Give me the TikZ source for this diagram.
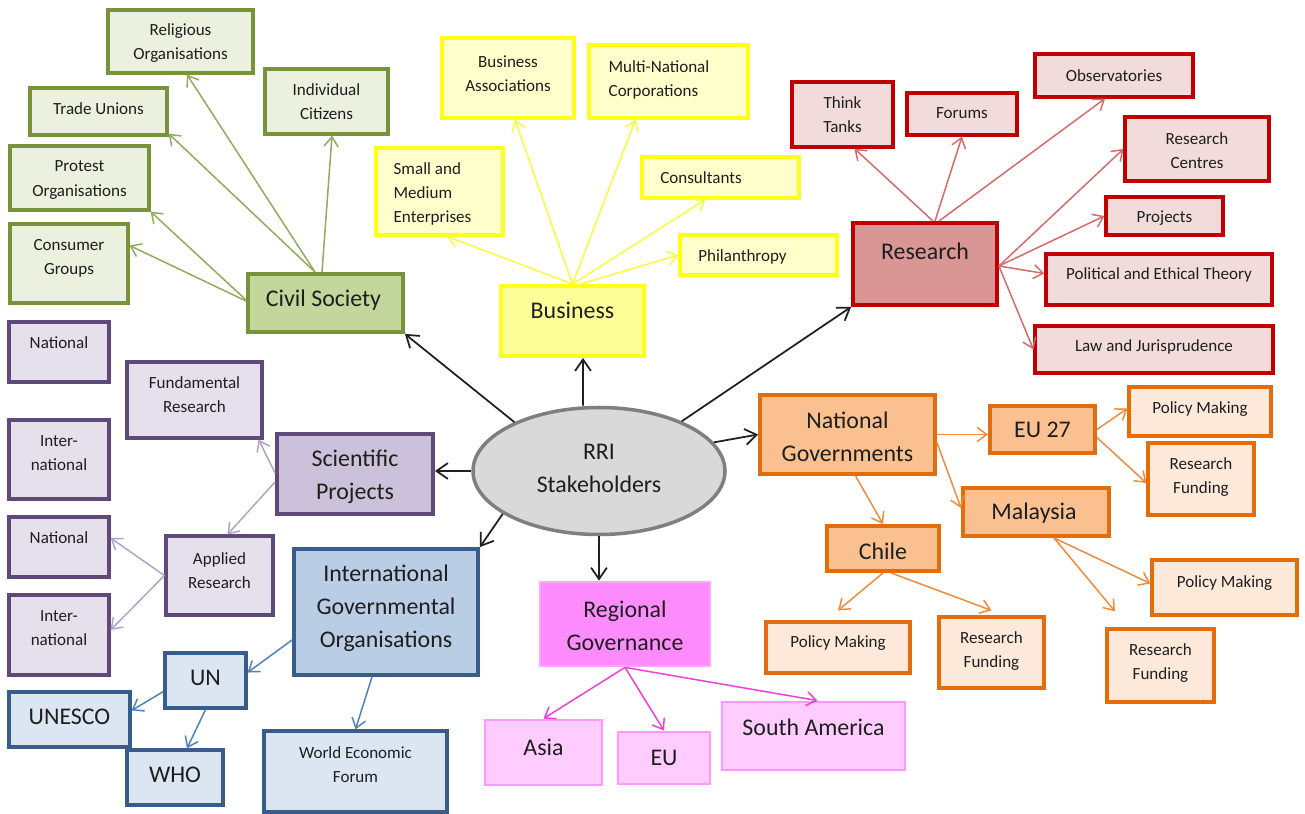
\documentclass[tikz,border=0pt]{standalone}
\usepackage{fontspec}
\setmainfont{Carlito}
\usetikzlibrary{arrows.meta,shapes.geometric}
\newdimen\pxu \pxu=0.02cm
\definecolor{txt}{HTML}{1E1E1E}
\definecolor{gborder}{HTML}{77933C}\definecolor{gsubf}{HTML}{EBF1DE}\definecolor{gmainf}{HTML}{C3D69B}\definecolor{garrow}{HTML}{8FAB5C}
\definecolor{yborder}{HTML}{FFFF1A}\definecolor{ysubf}{HTML}{FFFFCC}\definecolor{ymainf}{HTML}{FFFF99}\definecolor{yarrow}{HTML}{FAFA3C}
\definecolor{rborder}{HTML}{C00000}\definecolor{rsubf}{HTML}{F2DCDB}\definecolor{rmainf}{HTML}{D99694}\definecolor{rarrow}{HTML}{D66A6A}
\definecolor{pborder}{HTML}{5F497A}\definecolor{psubf}{HTML}{E5E0EC}\definecolor{pmainf}{HTML}{CCC1DA}\definecolor{parrow}{HTML}{B3A2C7}
\definecolor{bborder}{HTML}{385D8A}\definecolor{bsubf}{HTML}{DCE6F2}\definecolor{bmainf}{HTML}{B9CDE5}\definecolor{barrow}{HTML}{4F81BD}
\definecolor{mborder}{HTML}{FF99FF}\definecolor{msubf}{HTML}{FFCCFF}\definecolor{mmainf}{HTML}{FF8CFF}\definecolor{mmainb}{HTML}{FFA6FF}\definecolor{marrow}{HTML}{EE3FD9}
\definecolor{oborder}{HTML}{E46C0A}\definecolor{osubf}{HTML}{FDE9D9}\definecolor{omainf}{HTML}{FAC090}\definecolor{oarrow}{HTML}{F08A3C}
\definecolor{ellfill}{HTML}{D9D9D9}\definecolor{ellborder}{HTML}{7F7F7F}\definecolor{blk}{HTML}{1F1F1F}
\newcommand\bx[9]{%
  \node[#6, minimum width={(#4-#2)*0.02cm}, minimum height={(#5-#3)*0.02cm},
    label={[#8, shift={(#7)}]center:#9}] (#1) at ({(#2+#4)/2},{(#3+#5)/2}) {};}
\tikzset{
  bxbase/.style={rectangle, inner sep=0pt},
  gsub/.style={bxbase, draw=gborder, fill=gsubf, line width=1.8pt},
  gmain/.style={bxbase, draw=gborder, fill=gmainf, line width=2.2pt},
  ysub/.style={bxbase, draw=yborder, fill=ysubf, line width=1.8pt},
  ymain/.style={bxbase, draw=yborder, fill=ymainf, line width=2.2pt},
  rsub/.style={bxbase, draw=rborder, fill=rsubf, line width=1.8pt},
  rmain/.style={bxbase, draw=rborder, fill=rmainf, line width=2.2pt},
  psub/.style={bxbase, draw=pborder, fill=psubf, line width=1.8pt},
  pmain/.style={bxbase, draw=pborder, fill=pmainf, line width=2.2pt},
  bsub/.style={bxbase, draw=bborder, fill=bsubf, line width=1.8pt},
  bmain/.style={bxbase, draw=bborder, fill=bmainf, line width=2.2pt},
  msub/.style={bxbase, draw=mborder, fill=msubf, line width=1.6pt},
  mmain/.style={bxbase, draw=mmainb, fill=mmainf, line width=1.6pt},
  osub/.style={bxbase, draw=oborder, fill=osubf, line width=1.8pt},
  omain/.style={bxbase, draw=oborder, fill=omainf, line width=2.2pt},
  subT/.style={font=\fontsize{9.7}{13.7}\selectfont, align=center, text=txt, inner sep=0pt},
  subTL/.style={subT, align=left},
  mainT/.style={font=\fontsize{13.6}{18.8}\selectfont, align=center, text=txt, inner sep=0pt},
  conn/.style={line width=0.85pt, -{Straight Barb[length=5.5pt, width=8pt]}},
  garr/.style={conn, draw=garrow},
  yarr/.style={conn, draw=yarrow},
  rarr/.style={conn, draw=rarrow},
  parr/.style={conn, draw=parrow},
  barr/.style={conn, draw=barrow},
  marr/.style={conn, draw=marrow},
  oarr/.style={conn, draw=oarrow},
  karr/.style={line width=1pt, draw=blk, -{Straight Barb[length=6.5pt, width=9pt]}},
}
\begin{document}
\begin{tikzpicture}[x=0.02cm, y=-0.02cm]
\useasboundingbox (0,0) rectangle (1305,814);
% Civil society
\bx{rel}{108}{10}{253}{73}{gsub}{0,2}{subT}{Religious\\Organisations}
\bx{tu}{30}{88}{167}{135}{gsub}{0,-3}{subT}{Trade Unions}
\bx{ic}{265}{69}{388}{134}{gsub}{0,0}{subT}{Individual\\Citizens}
\bx{po}{10}{146}{149}{210}{gsub}{0,2}{subT}{Protest\\Organisations}
\bx{cg}{10}{224}{128}{303}{gsub}{0,-5}{subT}{Consumer\\Groups}
\bx{cs}{248}{274}{403}{332}{gmain}{-2,-3}{mainT}{Civil Society}
% Business
\bx{ba}{442}{38}{574}{118}{ysub}{0,-4.5}{subT}{Business\\Associations}
\bx{mnc}{589}{45}{748}{118}{ysub}{-9.5,-1.5}{subTL}{Multi-National\\Corporations}
\bx{sme}{376}{148}{503}{235}{ysub}{-7,2.5}{subTL}{Small and\\Medium\\Enterprises}
\bx{con}{642}{157}{799}{198}{ysub}{-19.5,0.5}{subT}{Consultants}
\bx{phi}{680}{235}{837}{275}{ysub}{-16,2}{subT}{Philanthropy}
\bx{bus}{501}{286}{644}{356}{ymain}{0,-11}{mainT}{Business}
% Research
\bx{tt}{792}{82}{893}{147}{rsub}{0,0}{subT}{Think\\Tanks}
\bx{for}{907}{93}{1017}{135}{rsub}{0,-1}{subT}{Forums}
\bx{obs}{1035}{54}{1193}{97}{rsub}{0,0}{subT}{Observatories}
\bx{rc}{1125}{117}{1269}{181}{rsub}{0,2}{subT}{Research\\Centres}
\bx{proj}{1106}{197}{1223}{235}{rsub}{0,2}{subT}{Projects}
\bx{pol}{1046}{254}{1272}{305}{rsub}{0,-4.5}{subT}{Political and Ethical Theory}
\bx{law}{1035}{326}{1273}{373}{rsub}{0,-2.5}{subT}{Law and Jurisprudence}
\bx{res}{853}{223}{997}{305}{rmain}{0,-13}{mainT}{Research}
% Scientific projects
\bx{nA}{9}{322}{109}{382}{psub}{0,-9}{subT}{National}
\bx{fr}{127}{362}{262}{438}{psub}{0,-5}{subT}{Fundamental\\Research}
\bx{iA}{9}{420}{109}{499}{psub}{0,-6}{subT}{Inter-\\national}
\bx{sp}{277}{434}{433}{514}{pmain}{0,2.5}{mainT}{Scientific\\Projects}
\bx{nB}{9}{517}{109}{577}{psub}{0,-9}{subT}{National}
\bx{ar}{166}{536}{273}{615}{psub}{0,-5}{subT}{Applied\\Research}
\bx{iB}{9}{595}{109}{675}{psub}{0,-6.5}{subT}{Inter-\\national}
% International governmental organisations
\bx{igo}{294}{549}{478}{675}{bmain}{0,-4}{mainT}{International\\Governmental\\Organisations}
\bx{un}{165}{653}{246}{708}{bsub}{0,-2.5}{mainT}{UN}
\bx{unesco}{9}{692}{130}{747}{bsub}{0,-2.5}{mainT}{UNESCO}
\bx{who}{127}{750}{223}{805}{bsub}{0,-2.5}{mainT}{WHO}
\bx{wef}{264}{731}{447}{812}{bsub}{0,-7}{subT}{World Economic\\Forum}
% Regional governance
\bx{rg}{540}{582}{710}{666}{mmain}{0,1.5}{mainT}{Regional\\Governance}
\bx{asia}{485}{720}{602}{785}{msub}{0,-5.5}{mainT}{Asia}
\bx{eu}{618}{732}{710}{784}{msub}{0,0}{mainT}{EU}
\bx{sa}{722}{702}{905}{770}{msub}{0,-9}{mainT}{South America}
% National governments
\bx{ng}{760}{395}{935}{474}{omain}{0,2}{mainT}{National\\Governments}
\bx{eut}{990}{406}{1095}{453}{omain}{0,0}{mainT}{EU 27}
\bx{epm}{1129}{387}{1271}{436}{osub}{0,-2.5}{subT}{Policy Making}
\bx{erf}{1148}{443}{1254}{515}{osub}{0,-2}{subT}{Research\\Funding}
\bx{mal}{963}{488}{1109}{536}{omain}{-2,1}{mainT}{Malaysia}
\bx{chile}{827}{526}{939}{571}{omain}{0,3}{mainT}{Chile}
\bx{mpm}{1152}{560}{1297}{615}{osub}{0,-4.5}{subT}{Policy Making}
\bx{mrf}{1107}{629}{1214}{702}{osub}{0,-2}{subT}{Research\\Funding}
\bx{cpm}{766}{622}{910}{673}{osub}{0,-4.5}{subT}{Policy Making}
\bx{crf}{939}{617}{1044}{688}{osub}{0,-1.5}{subT}{Research\\Funding}
% centre
\node[ellipse, draw=ellborder, fill=ellfill, line width=2pt, inner sep=0pt,
  minimum width=252\pxu, minimum height=127\pxu,
  label={[mainT, shift={(0,-2.5)}]center:RRI\\Stakeholders}] (ell) at (599,471) {};
% black connectors
\draw[karr] (ell.150) -- (cs.south east);
\draw[karr] ([xshift=-16\pxu]ell.north) -- ([xshift=10.5\pxu]bus.south);
\draw[karr] (ell.31) -- (res.south west);
\draw[karr] (ell.14) -- (ng.west);
\draw[karr] (ell.west) -- (ell.west -| sp.east);
\draw[karr] (ell.204) -- (igo.north east);
\draw[karr] (ell.south) -- (ell.south |- rg.north);
% civil society connectors
\draw[garr] ([xshift=-10.5\pxu]cs.north) -- ([xshift=6.5\pxu]rel.south);
\draw[garr] ([xshift=-10.5\pxu]cs.north) -- ([yshift=3\pxu]tu.south east);
\draw[garr] ([xshift=-3.5\pxu]cs.north) -- ([xshift=5.5\pxu]ic.south);
\draw[garr] ([yshift=3\pxu]cs.west) -- (po.south east);
\draw[garr] ([yshift=2\pxu]cs.west) -- ([yshift=18\pxu]cg.east);
% business connectors
\draw[yarr] (bus.north) -- ([xshift=8\pxu]sme.south);
\draw[yarr] (bus.north) -- ([xshift=7\pxu]ba.south);
\draw[yarr] (bus.north) -- ([xshift=-33\pxu]mnc.south);
\draw[yarr] (bus.north) -- ([xshift=-15\pxu]con.south);
\draw[yarr] ([xshift=8\pxu]bus.north) -- (phi.west);
% research connectors
\draw[rarr] ([xshift=8\pxu]res.north) -- ([xshift=12\pxu]tt.south);
\draw[rarr] ([xshift=10\pxu]res.north) -- (for.south);
\draw[rarr] ([xshift=14\pxu]res.north) -- ([xshift=-9\pxu]obs.south);
\draw[rarr] ([yshift=-2\pxu]res.east) -- (rc.west);
\draw[rarr] ([yshift=-2\pxu]res.east) -- (proj.west);
\draw[rarr] ([yshift=-2\pxu]res.east) -- ([yshift=6\pxu]pol.west);
\draw[rarr] ([yshift=-2\pxu]res.east) -- (law.west);
% scientific connectors
\draw[parr] ([yshift=1\pxu]sp.west) -- ([xshift=-5\pxu]fr.south east);
\draw[parr] ([yshift=-8\pxu]sp.west) -- ([xshift=8\pxu]ar.north);
\draw[parr] (ar.west) -- ([yshift=9\pxu]nB.east);
\draw[parr] (ar.west) -- ([yshift=5\pxu]iB.east);
% IGO connectors
\draw[barr] ([yshift=-28\pxu]igo.west) -- ([yshift=8\pxu]un.east);
\draw[barr] ([yshift=-11\pxu]un.west) -- ([yshift=9\pxu]unesco.east);
\draw[barr] (un.south) -- ([xshift=12\pxu]who.north);
\draw[barr] ([xshift=-14\pxu]igo.south) -- (wef.north);
% regional connectors
\draw[marr] (rg.south) -- (asia.north);
\draw[marr] (rg.south) -- (eu.north);
\draw[marr] (rg.south) -- ([xshift=4\pxu]sa.north);
% national governments connectors
\draw[oarr] (ng.east) -- (ng.east -| eut.west);
\draw[oarr] ([yshift=-8\pxu]ng.east) -- ([yshift=4\pxu]mal.west);
\draw[oarr] ([xshift=8\pxu]ng.south) -- (chile.north);
\draw[oarr] (eut.east) -- ([yshift=3\pxu]epm.west);
\draw[oarr] ([yshift=-8\pxu]eut.east) -- ([yshift=-4\pxu]erf.west);
\draw[oarr] ([xshift=18\pxu]mal.south) -- ([yshift=4\pxu]mpm.west);
\coordinate (mrfend) at ([xshift=-45.5\pxu, yshift=16\pxu]mrf.north);
\draw[oarr] ([xshift=18\pxu]mal.south) -- (mrfend);
\coordinate (cpmend) at ([yshift=10\pxu]cpm.north);
\draw[oarr] (chile.south) -- (cpmend);
\draw[oarr] ([xshift=8\pxu]chile.south) -- ([yshift=5\pxu]crf.north);
\end{tikzpicture}
\end{document}
